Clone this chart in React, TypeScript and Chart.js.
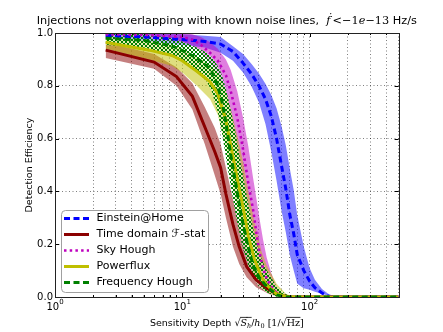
import React, { useEffect, useRef } from 'react';
import { Chart, registerables } from 'chart.js';

Chart.register(...registerables);

// ---------------- data ----------------
const seriesNames = ['Einstein@Home', 'Time domain \u2131-stat', 'Sky Hough', 'Powerflux', 'Frequency Hough'];

const xGridTicks = [1, 2, 3, 4, 5, 6, 7, 8, 9, 10, 20, 30, 40, 50, 60, 70, 80, 90, 100, 200, 300, 400, 500];
const xLabelDecades = [1, 10, 100];
const yTicks = [0, 0.2, 0.4, 0.6, 0.8, 1.0];

// Einstein@Home
const eahX = [2.5, 5, 10, 15, 20, 25, 30, 35, 40, 45, 50, 55, 60, 65, 70, 75, 80, 90, 100, 110, 125, 140, 160, 200, 300, 500];
const eahMid = [0.99, 0.985, 0.975, 0.968, 0.958, 0.93, 0.886, 0.845, 0.8, 0.75, 0.685, 0.6, 0.5, 0.41, 0.31, 0.24, 0.16, 0.1, 0.06, 0.035, 0.015, 0.003, 0, 0, 0, 0];
const eahHi = [1.0, 1.0, 0.995, 0.99, 0.985, 0.95, 0.92, 0.883, 0.847, 0.808, 0.765, 0.715, 0.65, 0.575, 0.485, 0.405, 0.31, 0.19, 0.11, 0.065, 0.03, 0.012, 0, 0, 0, 0];
const eahLo = [0.975, 0.97, 0.955, 0.945, 0.925, 0.895, 0.85, 0.797, 0.737, 0.655, 0.55, 0.44, 0.33, 0.245, 0.157, 0.1, 0.05, 0.033, 0.027, 0.02, 0.012, 0.005, 0, 0, 0, 0];

// Time domain F-stat
const tdX = [2.5, 6, 9, 12, 15, 18, 20, 22, 25, 28, 32, 38, 48, 58, 70, 80, 100, 200, 500];
const tdMid = [0.935, 0.89, 0.835, 0.76, 0.645, 0.55, 0.49, 0.39, 0.275, 0.19, 0.115, 0.065, 0.028, 0.007, 0, 0, 0, 0, 0];
const tdHi = [0.965, 0.92, 0.87, 0.81, 0.72, 0.64, 0.58, 0.49, 0.37, 0.27, 0.18, 0.1, 0.047, 0.018, 0.005, 0, 0, 0, 0];
const tdLo = [0.905, 0.865, 0.8, 0.71, 0.58, 0.46, 0.39, 0.3, 0.19, 0.125, 0.075, 0.037, 0.011, 0, 0, 0, 0, 0, 0];

// Sky Hough
const shX = [2.5, 5, 10, 12, 14, 16.5, 19, 22, 24, 27, 30, 33, 36, 38, 40, 43, 46, 50, 55, 60, 70, 100, 200, 500];
const shMid = [0.995, 0.993, 0.985, 0.975, 0.955, 0.925, 0.895, 0.84, 0.78, 0.68, 0.56, 0.43, 0.33, 0.25, 0.18, 0.11, 0.07, 0.04, 0.015, 0.003, 0, 0, 0, 0];
const shHi = [1.0, 1.0, 1.0, 0.995, 0.985, 0.965, 0.94, 0.9, 0.86, 0.78, 0.68, 0.57, 0.45, 0.38, 0.31, 0.22, 0.15, 0.09, 0.04, 0.015, 0, 0, 0, 0];
const shLo = [0.985, 0.98, 0.965, 0.95, 0.925, 0.885, 0.85, 0.77, 0.69, 0.56, 0.44, 0.33, 0.24, 0.17, 0.12, 0.065, 0.035, 0.015, 0.003, 0, 0, 0, 0, 0];

// Powerflux
const pfX = [2.5, 5.5, 8.3, 10, 13, 16.5, 19, 22, 25, 28, 30, 33, 37, 42, 46, 55, 65, 75, 100, 200, 500];
const pfMid = [0.965, 0.935, 0.915, 0.895, 0.855, 0.815, 0.77, 0.67, 0.53, 0.41, 0.34, 0.23, 0.14, 0.075, 0.045, 0.012, 0.002, 0, 0, 0, 0];
const pfHi = [0.99, 0.97, 0.955, 0.94, 0.91, 0.88, 0.85, 0.78, 0.68, 0.58, 0.51, 0.4, 0.28, 0.17, 0.12, 0.05, 0.012, 0, 0, 0, 0];
const pfLo = [0.94, 0.9, 0.875, 0.85, 0.8, 0.75, 0.69, 0.57, 0.42, 0.3, 0.24, 0.15, 0.08, 0.035, 0.018, 0.003, 0, 0, 0, 0, 0];

// Frequency Hough
const fhX = [2.5, 5, 8.4, 11, 13, 15.6, 17, 19, 20.5, 22, 24, 26.5, 29, 32.5, 36, 40, 45, 55, 65, 75, 100, 200, 500];
const fhMid = [0.98, 0.972, 0.95, 0.924, 0.905, 0.875, 0.855, 0.8, 0.74, 0.66, 0.54, 0.42, 0.31, 0.2, 0.12, 0.075, 0.045, 0.008, 0, 0, 0, 0, 0];
const fhHi = [1.0, 0.995, 0.98, 0.96, 0.945, 0.925, 0.91, 0.875, 0.84, 0.79, 0.71, 0.61, 0.5, 0.37, 0.26, 0.17, 0.11, 0.04, 0.01, 0, 0, 0, 0];
const fhLo = [0.955, 0.945, 0.915, 0.88, 0.855, 0.815, 0.78, 0.7, 0.62, 0.53, 0.42, 0.3, 0.21, 0.13, 0.07, 0.04, 0.02, 0.002, 0, 0, 0, 0, 0];

// ---------------- styles ----------------
const lineColors = ['#0000ff', '#8b0000', '#bf00bf', '#bfbf00', '#008000'];
const bandColors = ['rgba(0,0,255,0.5)', 'rgba(139,0,0,0.5)', 'rgba(191,0,191,0.5)', 'rgba(191,191,0,0.5)', 'hatch'];
const lineDashes: number[][] = [[6, 3.5], [], [2.5, 3.2], [], [6, 3.5]];
const lineWidths = [3, 3, 2.6, 3, 3];

const SANS = '"DejaVu Sans", sans-serif';
const SERIF = '"DejaVu Serif", serif';

type Run = { t: string; f: string; dy?: number; over?: boolean };

function drawRuns(ctx: CanvasRenderingContext2D, runs: Run[], cx: number, by: number, overY: number) {
  const widths = runs.map((r) => {
    ctx.font = r.f;
    return ctx.measureText(r.t).width;
  });
  const total = widths.reduce((a, b) => a + b, 0);
  let x = cx - total / 2;
  runs.forEach((r, i) => {
    ctx.font = r.f;
    ctx.fillText(r.t, x, by + (r.dy || 0));
    if (r.over) {
      ctx.beginPath();
      ctx.lineWidth = 0.8;
      ctx.moveTo(x - 0.5, by - overY);
      ctx.lineTo(x + widths[i] + 0.5, by - overY);
      ctx.stroke();
    }
    x += widths[i];
  });
}

function toPts(xs: number[], ys: number[]) {
  return xs.map((x, i) => ({ x, y: ys[i] }));
}

const decorPlugin = {
  id: 'decor',
  afterDraw(chart: any) {
    const { ctx, chartArea: a, scales } = chart;
    const xs = scales.x;
    const ys = scales.y;
    ctx.save();
    ctx.fillStyle = '#000';
    ctx.strokeStyle = '#000';
    ctx.textBaseline = 'alphabetic';
    ctx.textAlign = 'left';

    // tick marks (inward, all four sides)
    ctx.lineWidth = 1;
    ctx.beginPath();
    xGridTicks.forEach((v) => {
      const px = Math.round(xs.getPixelForValue(v)) + 0.5;
      const major = xLabelDecades.includes(v);
      const len = major ? 4 : 2;
      ctx.moveTo(px, a.bottom);
      ctx.lineTo(px, a.bottom - len);
      ctx.moveTo(px, a.top);
      ctx.lineTo(px, a.top + len);
    });
    yTicks.forEach((v) => {
      const py = Math.round(ys.getPixelForValue(v)) + 0.5;
      ctx.moveTo(a.left, py);
      ctx.lineTo(a.left + 4, py);
      ctx.moveTo(a.right, py);
      ctx.lineTo(a.right - 4, py);
    });
    ctx.stroke();

    // frame
    ctx.strokeStyle = '#222';
    ctx.lineWidth = 1;
    ctx.strokeRect(Math.round(a.left) + 0.5, Math.round(a.top) + 0.5, Math.round(a.right - a.left), Math.round(a.bottom - a.top));

    // x tick labels: 10^n
    xLabelDecades.forEach((v, i) => {
      const px = xs.getPixelForValue(v);
      ctx.font = `10px ${SANS}`;
      const w1 = ctx.measureText('10').width;
      ctx.font = `7px ${SANS}`;
      const sup = String(i);
      const w2 = ctx.measureText(sup).width;
      const start = px - (w1 + w2) / 2;
      ctx.font = `10px ${SANS}`;
      ctx.fillText('10', start, 310);
      ctx.font = `7px ${SANS}`;
      ctx.fillText(sup, start + w1, 304);
    });

    // title
    drawRuns(
      ctx,
      [
        { t: 'Injections not overlapping with known noise lines,  ', f: `11.3px ${SANS}` },
        { t: '\u1E1F', f: `italic 11.3px ${SERIF}` },
        { t: '\u2009<', f: `11.3px ${SERIF}` },
        { t: '\u22121', f: `11.3px ${SERIF}` },
        { t: 'e', f: `italic 11.3px ${SERIF}` },
        { t: '\u221213', f: `11.3px ${SERIF}` },
        { t: ' Hz/s', f: `11.3px ${SANS}` },
      ],
      (a.left + a.right) / 2,
      24,
      9
    );

    // x axis label
    ctx.strokeStyle = '#000';
    drawRuns(
      ctx,
      [
        { t: 'Sensitivity Depth ', f: `9.5px ${SANS}` },
        { t: '\u221A', f: `9.5px ${SERIF}` },
        { t: 'S', f: `italic 9.5px ${SERIF}`, over: true },
        { t: 'h', f: `italic 6.5px ${SERIF}`, dy: 2, over: true },
        { t: '/', f: `9.5px ${SERIF}` },
        { t: 'h', f: `italic 9.5px ${SERIF}` },
        { t: '0', f: `6.5px ${SERIF}`, dy: 2 },
        { t: ' [1/', f: `9.5px ${SERIF}` },
        { t: '\u221A', f: `9.5px ${SERIF}` },
        { t: 'Hz', f: `9.5px ${SERIF}`, over: true },
        { t: ']', f: `9.5px ${SERIF}` },
      ],
      (a.left + a.right) / 2,
      326,
      8.6
    );

    // y axis label
    ctx.save();
    ctx.translate(30, (a.top + a.bottom) / 2);
    ctx.rotate(-Math.PI / 2);
    ctx.textAlign = 'center';
    ctx.textBaseline = 'middle';
    ctx.font = `9.5px ${SANS}`;
    ctx.fillText('Detection Efficiency', 0, 0);
    ctx.restore();

    // legend
    const bx = 61.5, by = 210.5, bw = 147, bh = 82, r = 4;
    ctx.beginPath();
    ctx.moveTo(bx + r, by);
    ctx.lineTo(bx + bw - r, by);
    ctx.arcTo(bx + bw, by, bx + bw, by + r, r);
    ctx.lineTo(bx + bw, by + bh - r);
    ctx.arcTo(bx + bw, by + bh, bx + bw - r, by + bh, r);
    ctx.lineTo(bx + r, by + bh);
    ctx.arcTo(bx, by + bh, bx, by + bh - r, r);
    ctx.lineTo(bx, by + r);
    ctx.arcTo(bx, by, bx + r, by, r);
    ctx.closePath();
    ctx.fillStyle = '#fff';
    ctx.fill();
    ctx.strokeStyle = '#a0a0a0';
    ctx.lineWidth = 1;
    ctx.stroke();

    seriesNames.forEach((name, i) => {
      const cy = 218.5 + i * 16;
      ctx.beginPath();
      ctx.strokeStyle = lineColors[i];
      ctx.lineWidth = lineWidths[i];
      ctx.setLineDash(lineDashes[i]);
      ctx.moveTo(64, cy);
      ctx.lineTo(89, cy);
      ctx.stroke();
      ctx.setLineDash([]);
      ctx.fillStyle = '#000';
      ctx.font = `11px ${SANS}`;
      ctx.textBaseline = 'middle';
      ctx.fillText(name, 96.5, cy);
    });

    ctx.restore();
  },
};

export default function App() {
  const ref = useRef<HTMLCanvasElement>(null);

  useEffect(() => {
    if (!ref.current) return;

    // hatch pattern for the Frequency Hough band
    const pc = document.createElement('canvas');
    pc.width = 4;
    pc.height = 4;
    const p = pc.getContext('2d')!;
    p.fillStyle = 'rgba(255,255,255,0.4)';
    p.fillRect(0, 0, 4, 4);
    p.strokeStyle = '#008000';
    p.lineWidth = 1;
    p.beginPath();
    p.moveTo(-1, -1);
    p.lineTo(5, 5);
    p.moveTo(-1, 5);
    p.lineTo(5, -1);
    p.stroke();
    const hatch = ref.current.getContext('2d')!.createPattern(pc, 'repeat');

    const xsAll = [eahX, tdX, shX, pfX, fhX];
    const midAll = [eahMid, tdMid, shMid, pfMid, fhMid];
    const hiAll = [eahHi, tdHi, shHi, pfHi, fhHi];
    const loAll = [eahLo, tdLo, shLo, pfLo, fhLo];

    const datasets: any[] = [];
    // bands
    seriesNames.forEach((name, i) => {
      datasets.push({
        label: name + ' lo',
        data: toPts(xsAll[i], loAll[i]),
        borderColor: 'rgba(0,0,0,0)',
        borderWidth: 0,
        pointRadius: 0,
        fill: false,
        order: 20 - i,
      });
      datasets.push({
        label: name + ' hi',
        data: toPts(xsAll[i], hiAll[i]),
        borderColor: 'rgba(0,0,0,0)',
        borderWidth: 0,
        pointRadius: 0,
        fill: '-1',
        backgroundColor: bandColors[i] === 'hatch' ? hatch : bandColors[i],
        order: 20 - i,
      });
    });
    // lines
    seriesNames.forEach((name, i) => {
      datasets.push({
        label: name,
        data: toPts(xsAll[i], midAll[i]),
        borderColor: lineColors[i],
        borderWidth: lineWidths[i],
        borderDash: lineDashes[i],
        borderCapStyle: 'butt',
        pointRadius: 0,
        fill: false,
        tension: 0,
        order: 10 - i,
      });
    });

    const chart = new Chart(ref.current, {
      type: 'line',
      data: { datasets },
      options: {
        animation: false,
        responsive: false,
        devicePixelRatio: 1,
        events: [],
        layout: { padding: { left: 0, top: 33, right: 44.4, bottom: 0 } },
        plugins: {
          legend: { display: false },
          title: { display: false },
          tooltip: { enabled: false },
        },
        scales: {
          x: {
            type: 'logarithmic',
            min: 1,
            max: 500,
            afterBuildTicks: (scale: any) => {
              scale.ticks = xGridTicks.map((v) => ({ value: v }));
            },
            afterFit: (scale: any) => {
              scale.height = 35;
            },
            ticks: { display: false },
            grid: { color: 'rgba(0,0,0,0.5)', lineWidth: 1, drawTicks: false },
            border: { display: false, dash: [1, 2.5] },
          },
          y: {
            type: 'linear',
            min: 0,
            max: 1,
            afterBuildTicks: (scale: any) => {
              scale.ticks = yTicks.map((v) => ({ value: v }));
            },
            afterFit: (scale: any) => {
              scale.width = 55;
            },
            ticks: {
              color: '#000',
              font: { family: SANS, size: 10 },
              padding: 2,
              callback: (v: any) => Number(v).toFixed(1),
            },
            grid: { color: 'rgba(0,0,0,0.5)', lineWidth: 1, drawTicks: false },
            border: { display: false, dash: [1, 2.5] },
          },
        },
      },
      plugins: [decorPlugin],
    });

    return () => chart.destroy();
  }, []);

  return (
    <div style={{ position: 'absolute', left: 0, top: 0, width: 443, height: 332, background: '#fff' }}>
      <canvas ref={ref} width={443} height={332} style={{ width: 443, height: 332, display: 'block' }} />
    </div>
  );
}
